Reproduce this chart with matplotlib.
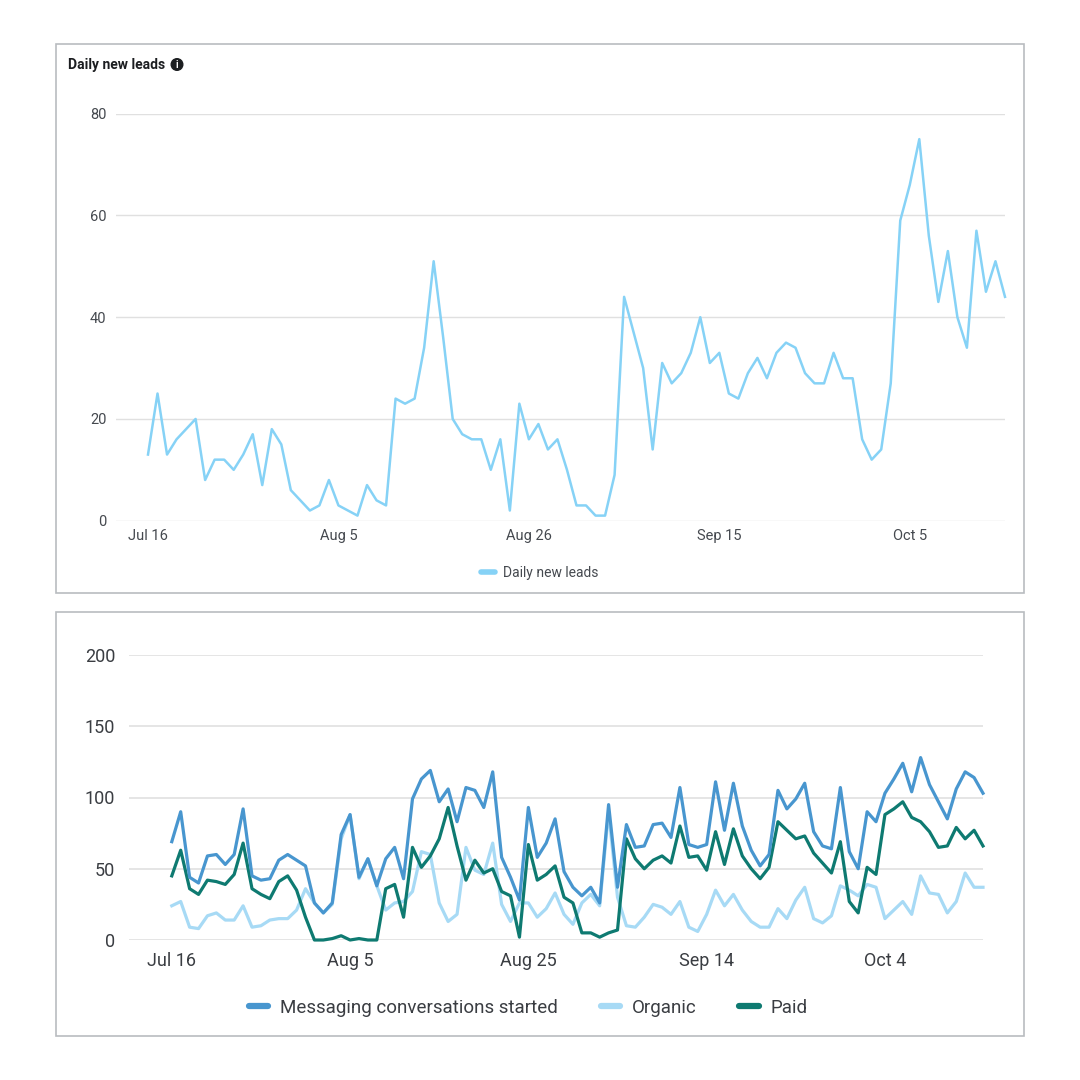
import numpy as np
import matplotlib
matplotlib.use('Agg')
import matplotlib.pyplot as plt
from matplotlib.lines import Line2D
from matplotlib.patches import Rectangle, Circle

plt.rcParams['font.family'] = ['Roboto', 'DejaVu Sans']

# Daily new leads (top chart)
leads = [13, 25, 13, 16, 18, 20, 8, 12, 12, 10, 13, 17, 7, 18, 15, 6, 4, 2, 3, 8,
         3, 2, 1, 7, 4, 3, 24, 23, 24, 34, 51, 36, 20, 17, 16, 16, 10, 16, 2, 23,
         16, 19, 14, 16, 10, 3, 3, 1, 1, 9, 44, 37, 30, 14, 31, 27, 29, 33, 40, 31,
         33, 25, 24, 29, 32, 28, 33, 35, 34, 29, 27, 27, 33, 28, 28, 16, 12, 14, 27, 59,
         66, 75, 56, 43, 53, 40, 34, 57, 45, 51, 44]
leads_ticks = [0, 20, 40, 60, 80]
leads_labels = ['Jul 16', 'Aug 5', 'Aug 26', 'Sep 15', 'Oct 5']

# Messaging conversations (bottom chart)
messaging = [69, 90, 44, 40, 59, 60, 53, 60, 92, 45, 42, 43, 56, 60, 56, 52, 26, 19, 26, 74,
             88, 44, 57, 38, 57, 65, 43, 99, 113, 119, 97, 106, 83, 107, 105, 93, 118, 58, 44, 28,
             93, 58, 68, 85, 48, 37, 31, 37, 26, 95, 37, 81, 65, 66, 81, 82, 72, 107, 67, 65,
             67, 111, 77, 110, 80, 63, 52, 60, 105, 92, 99, 110, 76, 66, 64, 107, 62, 50, 90, 83,
             103, 113, 124, 104, 128, 109, 97, 85, 106, 118, 114, 103]
organic = [24, 27, 9, 8, 17, 19, 14, 14, 24, 9, 10, 14, 15, 15, 21, 36, 26, 19, 25, 71,
           88, 43, 57, 38, 21, 26, 27, 34, 62, 60, 26, 13, 18, 65, 49, 46, 68, 25, 13, 26,
           26, 16, 22, 33, 18, 11, 26, 32, 24, 90, 30, 10, 9, 16, 25, 23, 18, 27, 9, 6,
           18, 35, 24, 32, 21, 13, 9, 9, 22, 15, 28, 37, 15, 12, 17, 38, 35, 31, 39, 37,
           15, 21, 27, 18, 45, 33, 32, 19, 27, 47, 37, 37]
paid = [45, 63, 36, 32, 42, 41, 39, 46, 68, 36, 32, 29, 41, 45, 35, 16, 0, 0, 1, 3,
        0, 1, 0, 0, 36, 39, 16, 65, 51, 59, 71, 93, 66, 42, 56, 47, 50, 34, 31, 2,
        67, 42, 46, 52, 30, 26, 5, 5, 2, 5, 7, 71, 57, 50, 56, 59, 54, 80, 58, 59,
        49, 76, 53, 78, 59, 50, 43, 51, 83, 77, 71, 73, 61, 54, 47, 69, 27, 19, 51, 46,
        88, 92, 97, 86, 83, 76, 65, 66, 79, 71, 77, 66]
conv_ticks = [0, 20, 40, 60, 80]
conv_labels = ['Jul 16', 'Aug 5', 'Aug 25', 'Sep 14', 'Oct 4']

c_leads = '#86D2F6'
c_msg = '#4896CF'
c_org = '#A7DAF5'
c_paid = '#0E7A71'
c_grid = '#E0E0E0'
c_txt = '#45494F'

fig = plt.figure(figsize=(10.8, 10.8), dpi=100)

# panel frames
fig.patches.append(Rectangle((56 / 1080, 1 - 593 / 1080), 968 / 1080, 549 / 1080,
                             transform=fig.transFigure, fill=False, ec='#B9BCC0', lw=1.2))
fig.patches.append(Rectangle((56 / 1080, 1 - 1036 / 1080), 968 / 1080, 424 / 1080,
                             transform=fig.transFigure, fill=False, ec='#B9BCC0', lw=1.2))

# ---- top chart
ax1 = fig.add_axes([116 / 1080, 1 - 520.7 / 1080, 889 / 1080, 407 / 1080])
x1 = np.arange(len(leads))
ax1.plot(x1, leads, color=c_leads, lw=1.8, clip_on=False)
ax1.set_xlim(-3.36, 90)
ax1.set_ylim(0, 80)
ax1.set_yticks([0, 20, 40, 60, 80])
ax1.set_xticks(leads_ticks)
ax1.set_xticklabels(leads_labels)
ax1.grid(axis='y', color=c_grid, lw=1)
ax1.set_axisbelow(True)
for s in ax1.spines.values():
    s.set_visible(False)
ax1.tick_params(length=0, labelsize=10.5, colors=c_txt)
ax1.tick_params(axis='y', pad=7)
ax1.tick_params(axis='x', pad=6)

fig.text(68 / 1080, 1 - 65 / 1080, 'Daily new leads', fontsize=10, fontweight='bold',
         color='#1C1E21', va='center', ha='left')
fig.patches.append(Circle((177 / 1080, 1 - 64.5 / 1080), 5.8 / 1080, transform=fig.transFigure,
                          color='#1C1E21'))
fig.text(177 / 1080, 1 - 64.5 / 1080, 'i', fontsize=7, fontweight='bold', color='white',
         ha='center', va='center')

h1 = [Line2D([0], [0], color=c_leads, lw=4, solid_capstyle='round')]
fig.legend(h1, ['Daily new leads'], loc='center', bbox_to_anchor=(540 / 1080, 1 - 573 / 1080),
           frameon=False, fontsize=10, handlelength=1.0, handletextpad=0.6, labelcolor=c_txt)

# ---- bottom chart
ax2 = fig.add_axes([129 / 1080, 1 - 940 / 1080, 854 / 1080, 285 / 1080])
x2 = np.arange(len(messaging))
ax2.plot(x2, organic, color=c_org, lw=2.3, clip_on=False)
ax2.plot(x2, paid, color=c_paid, lw=2.3, clip_on=False)
ax2.plot(x2, messaging, color=c_msg, lw=2.3, clip_on=False)
ax2.set_xlim(-4.8, 91)
ax2.set_ylim(0, 200)
ax2.set_yticks([0, 50, 100, 150, 200])
ax2.set_xticks(conv_ticks)
ax2.set_xticklabels(conv_labels)
ax2.grid(axis='y', color=c_grid, lw=1.2)
ax2.set_axisbelow(True)
for s in ax2.spines.values():
    s.set_visible(False)
ax2.tick_params(length=0, labelsize=13, colors='#3A3D42')
ax2.tick_params(axis='y', pad=10)
ax2.tick_params(axis='x', pad=9)

h2 = [Line2D([0], [0], color=c, lw=4.5, solid_capstyle='round') for c in (c_msg, c_org, c_paid)]
fig.legend(h2, ['Messaging conversations started', 'Organic', 'Paid'], loc='center',
           bbox_to_anchor=(528 / 1080, 1 - 1008 / 1080), ncol=3, frameon=False, fontsize=13.5,
           handlelength=1.05, handletextpad=0.6, columnspacing=2.3, labelcolor='#3A3D42')

fig.savefig('out.png', dpi=100)
